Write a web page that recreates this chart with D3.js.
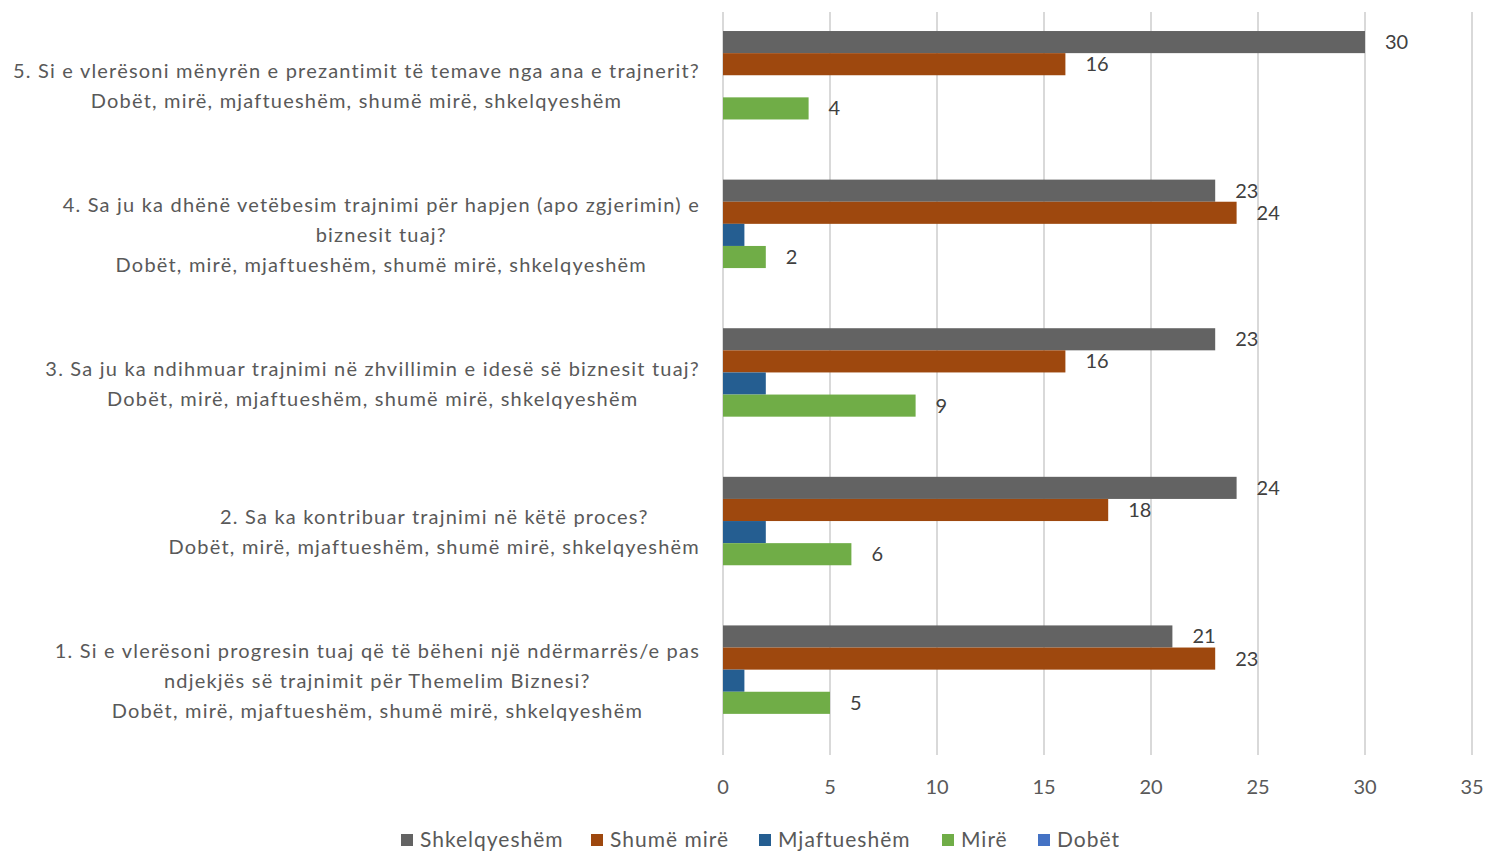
<!DOCTYPE html>
<html>
<head>
<meta charset="utf-8">
<script src="https://cdn.jsdelivr.net/npm/d3@7"></script>
<style>
  body { margin: 0; background: #fff; }
  text { font-family: Lato, "Open Sans", sans-serif; }
</style>
</head>
<body>
<div id="chart"></div>
<script>
// Data
const categories = ['Q1', 'Q2', 'Q3', 'Q4', 'Q5'];
const categoryLines = [
    ['1. Si e vlerësoni progresin tuaj që të bëheni një ndërmarrës/e pas', 'ndjekjës së trajnimit për Themelim Biznesi?', 'Dobët, mirë, mjaftueshëm, shumë mirë, shkelqyeshëm'],
    ['2. Sa ka kontribuar trajnimi në këtë proces?', 'Dobët, mirë, mjaftueshëm, shumë mirë, shkelqyeshëm'],
    ['3. Sa ju ka ndihmuar trajnimi në zhvillimin e idesë së biznesit tuaj?', 'Dobët, mirë, mjaftueshëm, shumë mirë, shkelqyeshëm'],
    ['4. Sa ju ka dhënë vetëbesim trajnimi për hapjen (apo zgjerimin) e', 'biznesit tuaj?', 'Dobët, mirë, mjaftueshëm, shumë mirë, shkelqyeshëm'],
    ['5. Si e vlerësoni mënyrën e prezantimit të temave nga ana e trajnerit?', 'Dobët, mirë, mjaftueshëm, shumë mirë, shkelqyeshëm']
];
const seriesNames = ['Shkelqyeshëm', 'Shumë mirë', 'Mjaftueshëm', 'Mirë', 'Dobët'];
const seriesColors = ['#636363', '#9e480e', '#255e91', '#70ad47', '#4472c4'];
const showLabels = [true, true, false, true, false];
// values per series, in category order Q1..Q5
const shkelqyeshem = [21, 24, 23, 23, 30];
const shumeMire = [23, 18, 16, 24, 16];
const mjaftueshem = [1, 2, 2, 1, 0];
const mire = [5, 6, 9, 2, 4];
const dobet = [0, 0, 0, 0, 0];
const seriesValues = [shkelqyeshem, shumeMire, mjaftueshem, mire, dobet];
const xTicks = [0, 5, 10, 15, 20, 25, 30, 35];

function drawChart() {
    const width = 1489;
    const height = 851;
    const plot = { left: 723, right: 1472, top: 12, bottom: 755 };

    const svg = d3.select('#chart')
        .append('svg')
        .attr('width', width)
        .attr('height', height);

    const x = d3.scaleLinear()
        .domain([0, 35])
        .range([plot.left, plot.right]);

    // Q5 on top
    const y = d3.scaleBand()
        .domain(categories.slice().reverse())
        .range([plot.top, plot.bottom])
        .paddingInner(0.256)
        .paddingOuter(0.128);

    const ySub = d3.scaleBand()
        .domain(seriesNames)
        .range([0, y.bandwidth()]);

    // Gridlines
    svg.append('g')
        .selectAll('line')
        .data(xTicks)
        .enter()
        .append('line')
        .attr('x1', d => x(d))
        .attr('x2', d => x(d))
        .attr('y1', plot.top)
        .attr('y2', plot.bottom)
        .attr('stroke', '#d9d9d9')
        .attr('stroke-width', 2);

    // Bars
    const groups = svg.selectAll('.cat')
        .data(categories)
        .enter()
        .append('g')
        .attr('class', 'cat')
        .attr('transform', d => `translate(0, ${y(d)})`);

    seriesNames.forEach((name, s) => {
        groups.append('rect')
            .attr('x', x(0))
            .attr('y', ySub(name))
            .attr('width', (d, i) => x(seriesValues[s][i]) - x(0))
            .attr('height', ySub.bandwidth())
            .attr('fill', seriesColors[s]);

        if (showLabels[s]) {
            groups.append('text')
                .attr('x', (d, i) => x(seriesValues[s][i]) + 20)
                .attr('y', ySub(name) + ySub.bandwidth() / 2)
                .attr('dy', '0.35em')
                .attr('font-size', 20)
                .attr('fill', '#404040')
                .text((d, i) => seriesValues[s][i]);
        }
    });

    // Category labels (centered block, right edge at ~700)
    categories.forEach((c, i) => {
        const lines = categoryLines[i];
        const g = svg.append('g');
        const cy = y(c) + y.bandwidth() / 2;
        const lh = 30;
        const texts = g.selectAll('text')
            .data(lines)
            .enter()
            .append('text')
            .attr('font-size', 20)
            .attr('letter-spacing', 1.2)
            .attr('fill', '#595959')
            .attr('text-anchor', 'middle')
            .attr('y', (d, k) => cy + (k - (lines.length - 1) / 2) * lh)
            .attr('dy', '0.35em')
            .text(d => d);
        let maxW = 0;
        texts.each(function() { maxW = Math.max(maxW, this.getComputedTextLength()); });
        texts.attr('x', 700 - maxW / 2);
    });

    // X axis tick labels
    svg.append('g')
        .selectAll('text')
        .data(xTicks)
        .enter()
        .append('text')
        .attr('x', d => x(d))
        .attr('y', 787)
        .attr('dy', '0.35em')
        .attr('text-anchor', 'middle')
        .attr('font-size', 20)
        .attr('fill', '#595959')
        .text(d => d);

    // Legend
    const legendX = [401, 591, 759, 942, 1038];
    const legend = svg.append('g');
    seriesNames.forEach((name, s) => {
        legend.append('rect')
            .attr('x', legendX[s])
            .attr('y', 834)
            .attr('width', 12)
            .attr('height', 12)
            .attr('fill', seriesColors[s]);
        legend.append('text')
            .attr('x', legendX[s] + 19)
            .attr('y', 840)
            .attr('dy', '0.35em')
            .attr('font-size', 21)
            .attr('letter-spacing', 1)
            .attr('fill', '#595959')
            .text(name);
    });
}

document.addEventListener('DOMContentLoaded', drawChart);
</script>
</body>
</html>
